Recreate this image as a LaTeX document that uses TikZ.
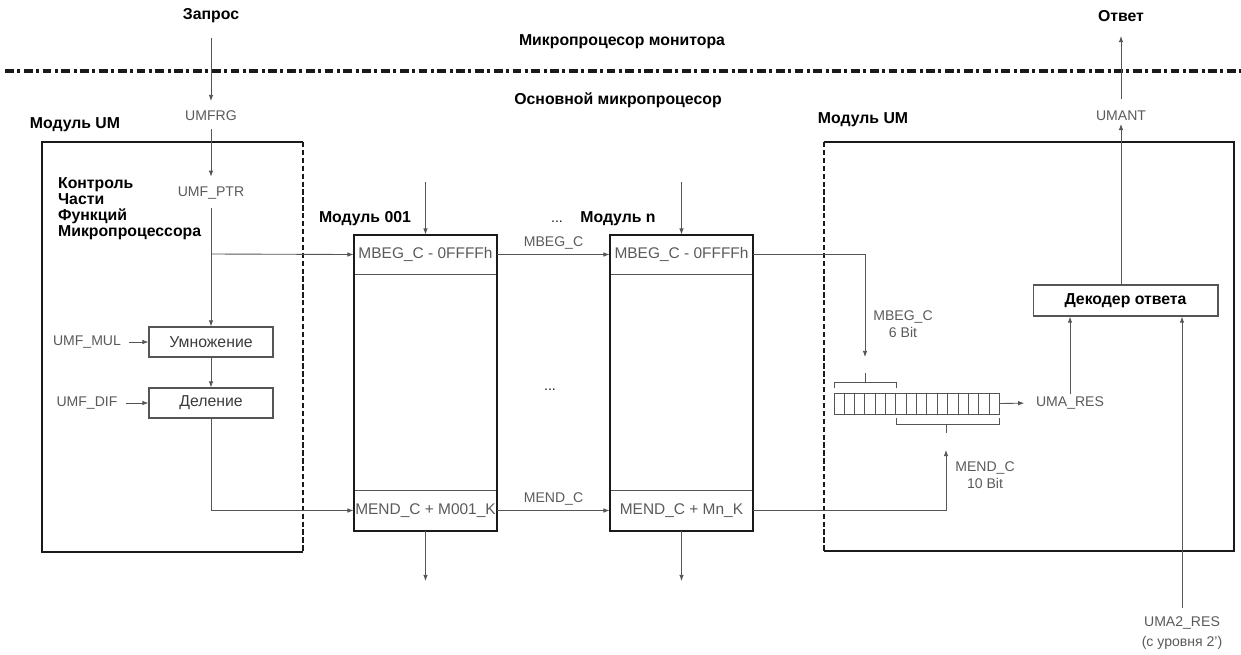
\documentclass[tikz,border=0pt]{standalone}
\usepackage{fontspec}
\setmainfont{Liberation Sans}
\usetikzlibrary{arrows.meta,positioning,calc}
\usepackage{xcolor}
\definecolor{LineGray}{HTML}{555555}
\definecolor{TextGray}{HTML}{5A5A5A}
\definecolor{Frame}{HTML}{1A1A1A}

\begin{document}
\begin{tikzpicture}[x=0.02cm,y=-0.02cm,font=\fontsize{8}{9.6}\selectfont,
    arr/.style={draw=LineGray,line width=0.5pt,-{Latex[length=3.5pt,width=2.6pt]}},
    wire/.style={draw=LineGray,line width=0.5pt},
    lbl/.style={text=TextGray,inner sep=1.5pt},
    head/.style={font=\fontsize{9}{9}\selectfont\bfseries,text=black,inner sep=1pt},
    opbox/.style={draw=LineGray,line width=0.6pt,minimum width=2.48cm,minimum height=0.6cm,
                  inner sep=0pt,font=\fontsize{9}{9}\selectfont,text=Frame!85},
    cell/.style={draw=LineGray,line width=0.5pt,minimum width=2.86cm,inner sep=0pt,
                 font=\fontsize{8.8}{9}\selectfont,text=TextGray},
    frame/.style={draw=Frame,line width=1.4pt},
    framedash/.style={draw=Frame,line width=1.4pt,dash pattern=on 3pt off 1.5pt}]

  \useasboundingbox (0,0) rectangle (1241,654);

  % levels
  \node[head] (zapros) at (211,16) {Запрос};
  \node[head] (otvet) at (1121,16) {Ответ};
  \node[head] (monitor) at (622,42) {Микропроцесор монитора};
  \draw[Frame,line width=1.9pt,dash pattern=on 5pt off 2pt on 1.7pt off 2pt] (5,71) -- (1241,71);
  \node[head] (mainproc) at (618,100) {Основной микропроцесор};

  % left module UM
  \node[head] (umL) at (75,125) {Модуль UM};
  \draw[frame] (303,142) -- (42,142) -- (42,552) -- (303,552);
  \draw[framedash] (303,142) -- (303,552);
  \node[lbl] (umfrg) at (211,116) {UMFRG};
  \node[lbl] (ptr) at (211,193) {UMF\_PTR};
  \node[head,align=left,anchor=north west,font=\fontsize{9}{9.1}\selectfont\bfseries]
    (ctrl) at (56,176) {Контроль\\Части\\Функций\\Микропроцессора};
  \node[opbox] (mul) at (211,342) {Умножение};
  \node[opbox] (div) at (211,403) {Деление};
  \node[lbl] (fmul) at (87,342) {UMF\_MUL};
  \node[lbl] (fdif) at (87,403) {UMF\_DIF};
  \coordinate (split) at (211,254);

  \draw[arr,shorten <=7pt,shorten >=4pt] (zapros.south) -- (umfrg.north);
  \draw[arr,shorten <=3pt,shorten >=4pt] (umfrg.south) -- (ptr.north);
  \draw[arr,shorten <=3pt] (ptr.south) -- (mul.north);
  \draw[arr] (mul.south) -- (div.north);
  \draw[arr,shorten <=3pt] (fmul.east) -- (mul.west);
  \draw[arr,shorten <=3pt] (fdif.east) -- (div.west);

  % module 001
  \node[head] (m1name) at (365,219) {Модуль 001};
  \node[cell,minimum height=0.78cm] (m1beg) at (425.5,254.5) {MBEG\_C - 0FFFFh};
  \node[cell,minimum height=0.82cm] (m1end) at (425.5,510.5) {MEND\_C + M001\_K};
  \draw[Frame,line width=1.1pt] (m1beg.north west) rectangle (m1end.south east);
  \coordinate (m1in) at (425.5,182);
  \coordinate (m1out) at (425.5,581);
  \draw[arr] (m1in) -- (m1beg.north);
  \draw[arr] (m1end.south) -- (m1out);

  % module n
  \node[lbl,text=Frame,anchor=base] (dots1) at (557,222) {...};
  \node[head] (mnname) at (618,219) {Модуль n};
  \node[cell,minimum height=0.78cm] (mnbeg) at (681.5,254.5) {MBEG\_C - 0FFFFh};
  \node[cell,minimum height=0.82cm] (mnend) at (681.5,510.5) {MEND\_C + Mn\_K};
  \draw[Frame,line width=1.1pt] (mnbeg.north west) rectangle (mnend.south east);
  \coordinate (mnin) at (681.5,182);
  \coordinate (mnout) at (681.5,581);
  \draw[arr] (mnin) -- (mnbeg.north);
  \draw[arr] (mnend.south) -- (mnout);
  \node[lbl,text=Frame,anchor=base] (dots2) at (550,390) {...};

  \draw[arr] (split) -- (m1beg.west);
  \draw[arr] (div.south) |- (m1end.west);
  \draw[arr] (m1beg.east) -- node[lbl,above=1pt] (lbeg) {MBEG\_C} (mnbeg.west);
  \draw[arr] (m1end.east) -- node[lbl,above=1pt] (lend) {MEND\_C} (mnend.west);

  % right module UM
  \node[head] (umR) at (863,120) {Модуль UM};
  \draw[frame] (824,142) -- (1234,142) -- (1234,551) -- (824,551);
  \draw[framedash] (824,142) -- (824,551);

  \node[draw=LineGray,line width=0.5pt,minimum width=3.3cm,minimum height=0.42cm,inner sep=0pt]
    (reg) at (916.5,403.5) {};
  \foreach \i in {1,...,15}
    \draw[wire] ($(reg.north west)!\i/16!(reg.north east)$) -- ($(reg.south west)!\i/16!(reg.south east)$);
  \draw[wire] (834,388) -- (834,382) -- (896,382) -- (896,388);
  \draw[wire] (865,382) -- (865,373);
  \draw[wire] (896,418) -- (896,424) -- (999,424) -- (999,418);
  \draw[wire] (946,424) -- (946,433);

  \coordinate (begtip) at (865,357);
  \coordinate (endtip) at (946,450);
  \draw[arr] (mnbeg.east) -| (begtip);
  \draw[arr] (mnend.east) -| (endtip);
  \node[lbl,align=center] (bits6) at (903,324) {MBEG\_C\\6 Bit};
  \node[lbl,align=center] (bits10) at (985,475) {MEND\_C\\10 Bit};

  \node[lbl] (res) at (1070,403) {UMA\_RES};
  \draw[arr,shorten >=5pt] (reg.east) -- (res.west);

  \node[draw=LineGray,line width=0.6pt,minimum width=3.7cm,minimum height=0.62cm,
        font=\fontsize{9}{9}\selectfont\bfseries] (dec) at (1125.5,300.5) {Декодер ответа};
  \draw[arr] (res.north) -- (res.north |- dec.south);
  \node[lbl,align=center,font=\fontsize{8}{11.3}\selectfont] (res2) at (1182,633) {UMA2\_RES\\(с уровня 2')};
  \draw[arr,shorten <=3pt] (res2.north) -- (res2.north |- dec.south);

  \node[lbl] (umant) at (1121,116) {UMANT};
  \draw[arr] (umant.south |- dec.north) -- (umant.south);
  \draw[arr,shorten <=5pt,shorten >=7pt] (umant.north) -- (otvet.south);
\end{tikzpicture}
\end{document}
